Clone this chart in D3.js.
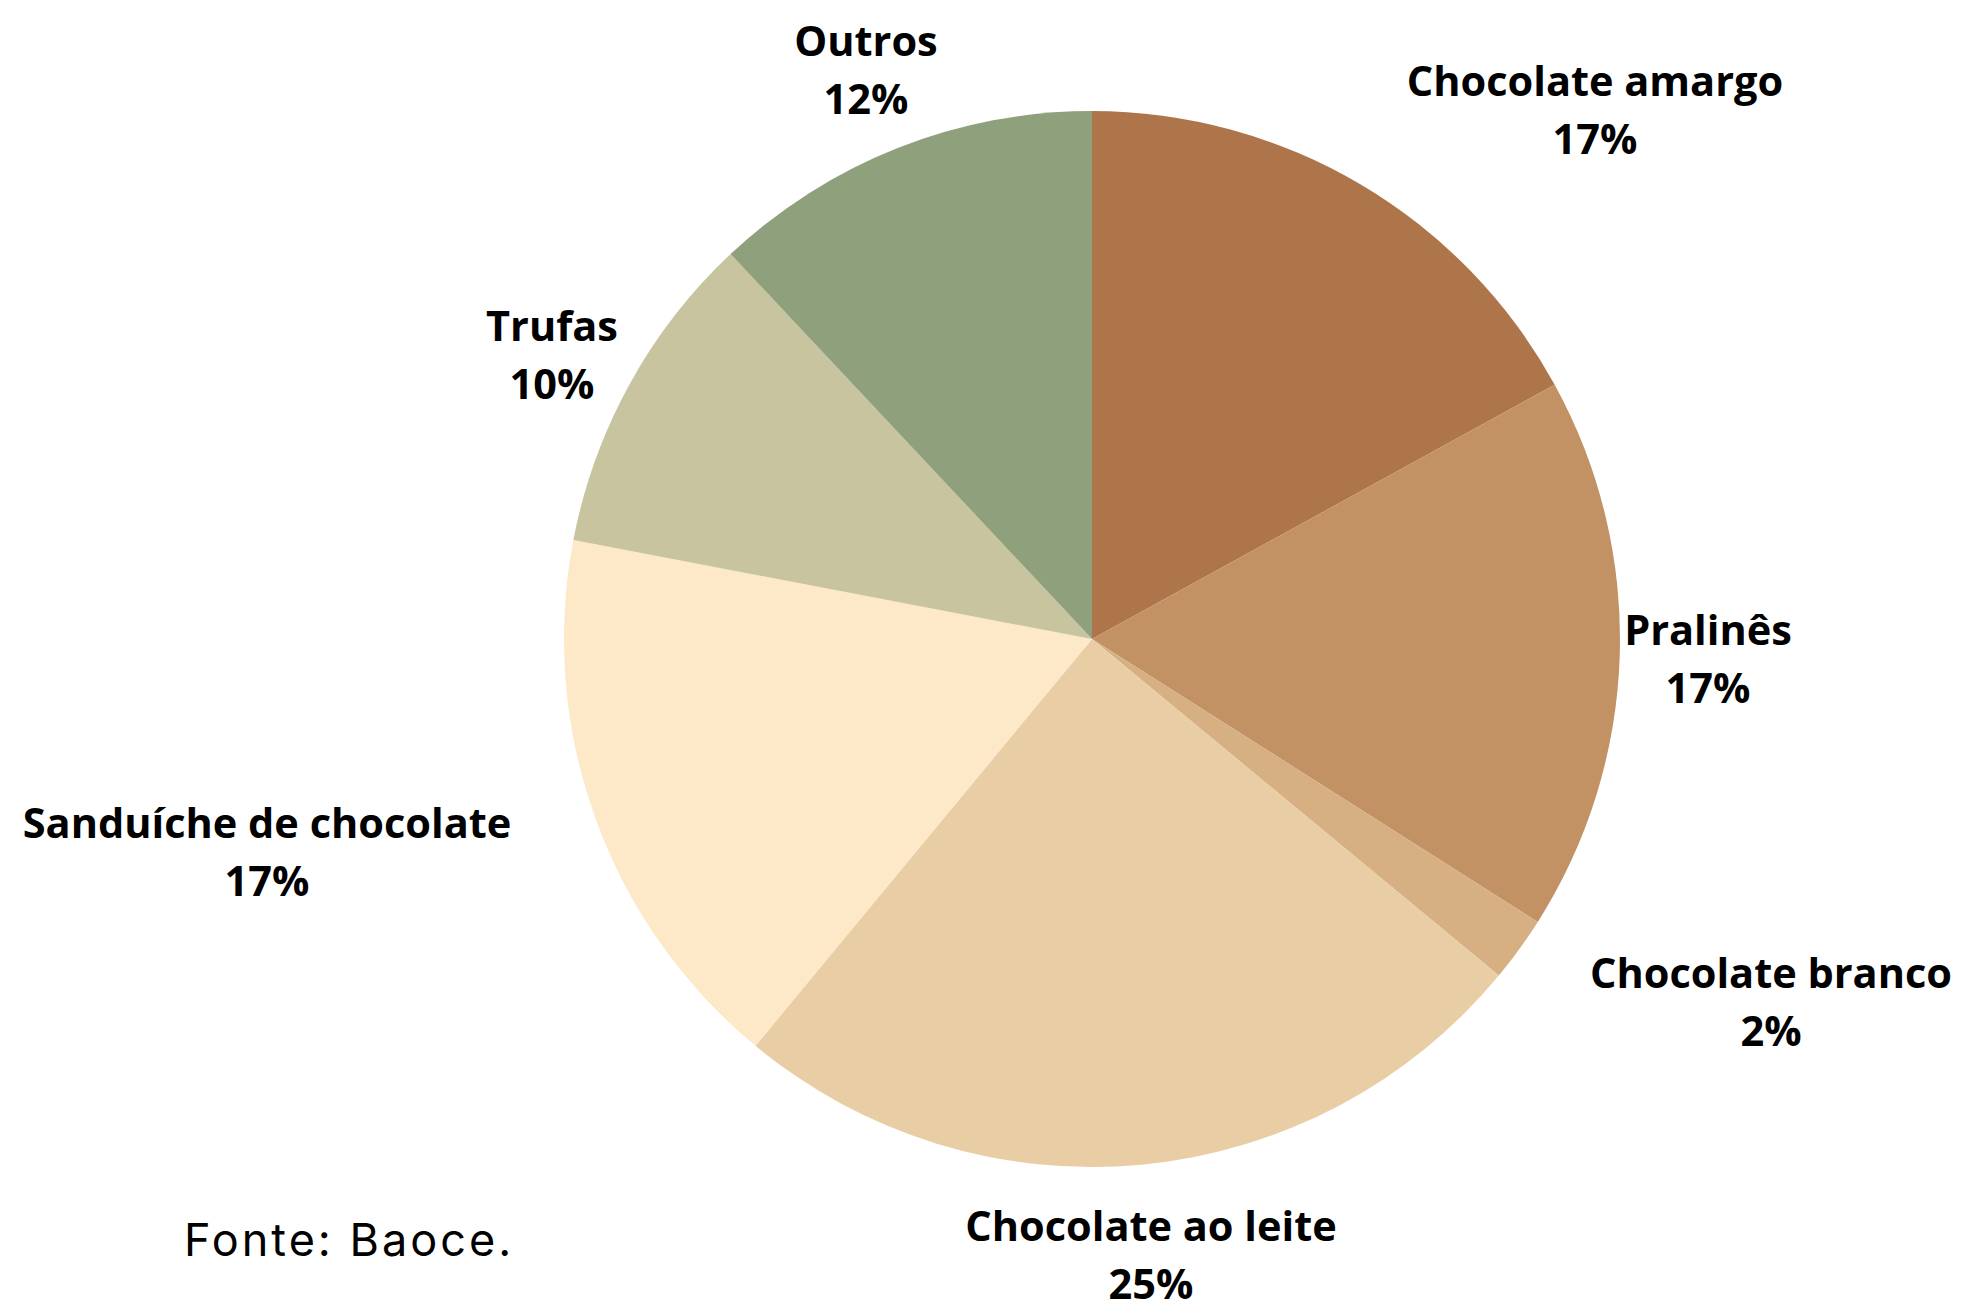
<!DOCTYPE html>
<html>
<head>
<meta charset="utf-8">
<script src="https://cdn.jsdelivr.net/npm/d3@7"></script>
<style>
  html, body { margin: 0; padding: 0; background: #ffffff; }
  svg { display: block; }
</style>
</head>
<body>
<div id="chart"></div>
<script>
// ---- data ----
const categories = ["Chocolate amargo", "Pralinês", "Chocolate branco", "Chocolate ao leite", "Sanduíche de chocolate", "Trufas", "Outros"];
const shares = [17, 17, 2, 25, 17, 10, 12];
const sliceColors = ["#AE754B", "#C29265", "#D6AF82", "#E9CDA5", "#FDE8C7", "#C7C49F", "#8FA07C"];
const sourceNote = "Fonte: Baoce.";

// ---- layout (not data) ----
const W = 1962, H = 1299;
const cx = 1092, cy = 639, R = 528;
// label anchor: centre x and first baseline, relative to the pie centre
const labelLayout = [
  [503, -543], [616, 6], [679, 349], [59, 602], [-825, 199], [-540, -298], [-226, -583]
];
const lineGap = 58;

const svg = d3.select("#chart").append("svg")
  .attr("width", W).attr("height", H);

const g = svg.append("g").attr("transform", `translate(${cx},${cy})`);

const pie = d3.pie().sort(null).value(d => d.value);
const arc = d3.arc().innerRadius(0).outerRadius(R);
const color = d3.scaleOrdinal().domain(categories).range(sliceColors);

const rows = categories.map((c, i) => ({ name: c, value: shares[i] }));
const arcs = pie(rows);

g.selectAll("path.slice").data(arcs).join("path")
  .attr("class", "slice")
  .attr("d", arc)
  .attr("fill", d => color(d.data.name));

const labels = g.selectAll("text.lbl").data(arcs).join("text")
  .attr("class", "lbl")
  .attr("text-anchor", "middle")
  .attr("font-family", "'Open Sans', sans-serif")
  .attr("font-weight", 700)
  .attr("font-size", 41.5)
  .attr("fill", "#000");

labels.append("tspan")
  .attr("x", (d, i) => labelLayout[i][0])
  .attr("y", (d, i) => labelLayout[i][1])
  .text(d => d.data.name);
labels.append("tspan")
  .attr("x", (d, i) => labelLayout[i][0])
  .attr("y", (d, i) => labelLayout[i][1] + lineGap)
  .text(d => d3.format("d")(d.data.value) + "%");

svg.append("text")
  .attr("x", 184).attr("y", 1256)
  .attr("font-family", "Inter, sans-serif")
  .attr("font-weight", 400)
  .attr("font-size", 45)
  .attr("letter-spacing", 3)
  .attr("fill", "#000")
  .text(sourceNote);
</script>
</body>
</html>
